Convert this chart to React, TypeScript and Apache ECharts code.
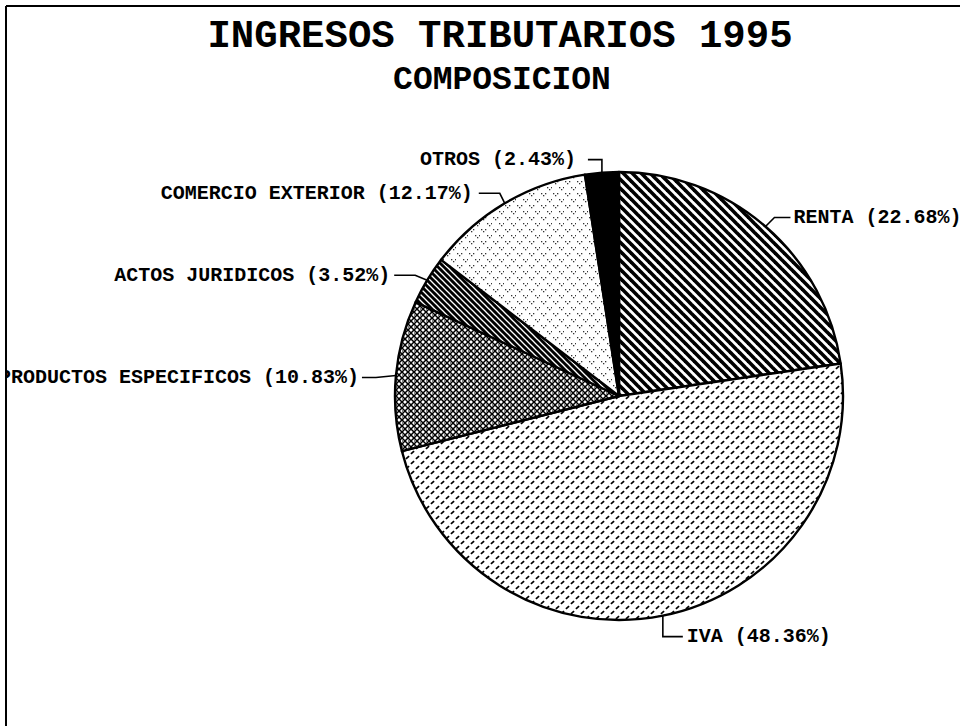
import React, { useEffect, useRef } from "react";
import * as echarts from "echarts";

// ---- data ----
const titleText = "INGRESOS TRIBUTARIOS 1995";
const subtitleText = "COMPOSICION";
const categories = [
  "RENTA",
  "IVA",
  "PRODUCTOS ESPECIFICOS",
  "ACTOS JURIDICOS",
  "COMERCIO EXTERIOR",
  "OTROS",
];
const shares = [22.68, 48.36, 10.83, 3.52, 12.17, 2.43];

// ---- label layout (leader offsets relative to slice edge anchor) ----
const labelLayoutCfg = [
  { elbow: [9, -9], end: [25, -9], label: [28, -9], align: "left" },
  { elbow: [0, 21], end: [20, 21], label: [24, 21], align: "left" },
  { elbow: [-20, 2], end: [-34, 2], label: [-37, 2], align: "right" },
  { elbow: [-12, -5], end: [-33, -5], label: [-37, -5], align: "right" },
  { elbow: [-5, -10], end: [-26, -10], label: [-32, -10], align: "right" },
  { elbow: [0, -13], end: [-14, -13], label: [-26, -13], align: "right" },
];

function makeTile(size: number, draw: (ctx: CanvasRenderingContext2D, s: number) => void, bg = "#fff") {
  const c = document.createElement("canvas");
  c.width = size;
  c.height = size;
  const ctx = c.getContext("2d")!;
  ctx.fillStyle = bg;
  ctx.fillRect(0, 0, size, size);
  draw(ctx, size);
  return c;
}

function backslashLines(ctx: CanvasRenderingContext2D, s: number, color: string, w: number) {
  ctx.strokeStyle = color;
  ctx.lineWidth = w;
  for (let k = -1; k <= 1; k++) {
    ctx.beginPath();
    ctx.moveTo(k * s - 2, -2);
    ctx.lineTo(k * s + s + 2, s + 2);
    ctx.stroke();
  }
}
function slashLines(ctx: CanvasRenderingContext2D, s: number, color: string, w: number) {
  ctx.strokeStyle = color;
  ctx.lineWidth = w;
  for (let k = -1; k <= 1; k++) {
    ctx.beginPath();
    ctx.moveTo(k * s - 2, s + 2);
    ctx.lineTo(k * s + s + 2, -2);
    ctx.stroke();
  }
}

function buildPatterns() {
  const renta = makeTile(9, (ctx, s) => backslashLines(ctx, s, "#000", 3.6));
  const iva = makeTile(10, (ctx) => {
    ctx.strokeStyle = "#000";
    ctx.lineWidth = 1.7;
    const dash = (cx: number, cy: number) => {
      ctx.beginPath();
      ctx.moveTo(cx - 1.6, cy + 1.4);
      ctx.lineTo(cx + 1.6, cy - 1.4);
      ctx.stroke();
    };
    dash(2.5, 2.5);
    dash(7.5, 7.5);
  });
  const productos = makeTile(6, (ctx, s) => {
    backslashLines(ctx, s, "#000", 1.5);
    slashLines(ctx, s, "#000", 1.5);
    ctx.fillStyle = "#000";
    ctx.fillRect(0, 2.5, 1, 1);
  });
  const actos = makeTile(6, (ctx, s) => backslashLines(ctx, s, "#fff", 1.3), "#000");
  const comercio = makeTile(12, (ctx) => {
    ctx.fillStyle = "rgba(0,0,0,0.8)";
    const pts = [
      [1, 1], [3, 3], [5, 1],
      [7, 7], [9, 9], [11, 7],
    ];
    pts.forEach(([x, y]) => ctx.fillRect(x, y, 1.3, 1.3));
  });
  const mk = (c: HTMLCanvasElement) => ({
    image: c,
    repeat: "repeat",
    imageWidth: c.width,
    imageHeight: c.height,
  });
  return [mk(renta), mk(iva), mk(productos), mk(actos), mk(comercio), "#000"];
}

export default function App() {
  const ref = useRef<HTMLDivElement>(null);
  useEffect(() => {
    if (!ref.current) return;
    const chart = echarts.init(ref.current, null, { renderer: "svg" });
    const fills = buildPatterns();
    const cx = 619;
    const cy = 396;
    const r = 224;
    const data = categories.map((name, i) => ({
      name,
      value: shares[i],
      itemStyle: { color: fills[i] as any },
    }));

    chart.setOption({
      animation: false,
      backgroundColor: "#fff",
      title: [
        {
          text: titleText,
          left: 495,
          top: 12,
          textAlign: "center",
          textStyle: {
            fontFamily: "Liberation Mono",
            fontWeight: "bold",
            fontSize: 39,
            color: "#000",
            lineHeight: 39,
          },
        },
        {
          text: subtitleText,
          left: 497,
          top: 59,
          textAlign: "center",
          textStyle: {
            fontFamily: "Liberation Mono",
            fontWeight: "bold",
            fontSize: 33,
            color: "#000",
            lineHeight: 33,
          },
        },
      ],
      graphic: [
        {
          type: "rect",
          z: 100,
          shape: { x: 0, y: 0, width: 5, height: 726 },
          style: { fill: "#fff" },
        },
        {
          type: "line",
          z: 101,
          shape: { x1: 6, y1: 6, x2: 960, y2: 6 },
          style: { stroke: "#000", lineWidth: 2 },
        },
        {
          type: "line",
          z: 101,
          shape: { x1: 6, y1: 6, x2: 6, y2: 726 },
          style: { stroke: "#000", lineWidth: 2 },
        },
      ],
      series: [
        {
          type: "pie",
          center: [cx, cy],
          radius: r,
          startAngle: 90,
          clockwise: true,
          avoidLabelOverlap: false,
          silent: true,
          data,
          itemStyle: { borderColor: "#000", borderWidth: 2.4 },
          label: {
            show: true,
            position: "outside",
            formatter: (p: any) => `${p.name} (${Number(p.value).toFixed(2)}%)`,
            fontFamily: "Liberation Mono",
            fontWeight: "bold",
            fontSize: 20,
            color: "#000",
          },
          labelLine: {
            show: true,
            length: 10,
            length2: 10,
            smooth: false,
            lineStyle: { color: "#000", width: 1.6 },
          },
          labelLayout: (params: any) => {
            const cfg = labelLayoutCfg[params.dataIndex];
            let ax: number, ay: number;
            if (params.labelLinePoints && params.labelLinePoints[0]) {
              ax = params.labelLinePoints[0][0];
              ay = params.labelLinePoints[0][1];
            } else {
              ax = cx;
              ay = cy;
            }
            return {
              x: ax + cfg.label[0],
              y: ay + cfg.label[1],
              align: cfg.align,
              verticalAlign: "middle",
              labelLinePoints: [
                [ax, ay],
                [ax + cfg.elbow[0], ay + cfg.elbow[1]],
                [ax + cfg.end[0], ay + cfg.end[1]],
              ],
            };
          },
        },
      ],
    });
    return () => chart.dispose();
  }, []);
  return (
    <div
      ref={ref}
      style={{ position: "fixed", left: 0, top: 0, width: 960, height: 726, background: "#fff" }}
    />
  );
}
